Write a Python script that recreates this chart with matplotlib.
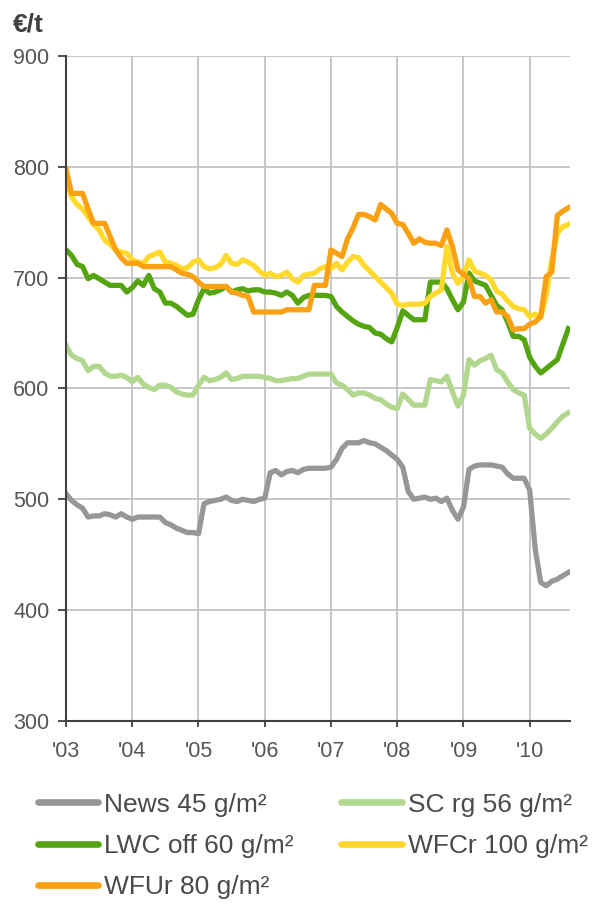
import numpy as np
import matplotlib
matplotlib.use("Agg")
import matplotlib.pyplot as plt
from matplotlib.lines import Line2D

plt.rcParams['font.family'] = ['Liberation Sans', 'DejaVu Sans']

# monthly prices, Jan 2003 .. Aug 2010 (EUR/t)
news = [505, 499, 495, 492, 484, 485, 485, 487, 486, 484, 487, 484,
        482, 484, 484, 484, 484, 484, 479, 477, 474, 472, 470, 470,
        469, 496, 498, 499, 500, 502, 499, 498, 500, 499, 498, 500,
        501, 524, 526, 522, 525, 526, 524, 527, 528, 528, 528, 528,
        529, 536, 546, 551, 551, 551, 553, 551, 550, 547, 544, 540,
        536, 529, 507, 500, 501, 502, 500, 501, 498, 501, 490, 482,
        493, 527, 530, 531, 531, 531, 530, 529, 523, 519, 519, 519,
        508, 455, 425, 422, 426, 428, 431, 434]
sc_rg = [639, 630, 627, 625, 616, 620, 620, 614, 611, 611, 612, 610,
         606, 610, 604, 601, 599, 603, 603, 601, 597, 595, 594, 594,
         603, 610, 607, 608, 610, 614, 608, 609, 611, 611, 611, 611,
         610, 609, 607, 607, 608, 609, 609, 611, 613, 613, 613, 613,
         613, 605, 603, 599, 594, 596, 596, 594, 591, 590, 586, 583,
         582, 595, 590, 585, 585, 585, 608, 607, 606, 611, 597, 584,
         594, 626, 621, 625, 627, 630, 617, 614, 606, 599, 596, 594,
         564, 559, 555, 559, 564, 570, 575, 578]
lwc = [725, 720, 712, 710, 699, 702, 699, 696, 693, 693, 693, 687,
       691, 697, 693, 702, 690, 687, 677, 677, 674, 670, 666, 667,
       680, 690, 686, 687, 689, 692, 687, 689, 690, 688, 689, 689,
       687, 687, 686, 684, 687, 684, 677, 682, 684, 684, 684, 684,
       683, 674, 669, 665, 661, 658, 656, 655, 650, 649, 645, 642,
       655, 670, 666, 662, 662, 662, 696, 696, 696, 690, 680, 671,
       678, 704, 697, 695, 693, 684, 675, 671, 660, 647, 647, 644,
       628, 620, 614, 618, 622, 626, 640, 654]
wfcr = [788, 773, 766, 762, 755, 748, 743, 734, 730, 725, 723, 722,
        716, 714, 713, 719, 721, 723, 714, 713, 711, 708, 709, 714,
        716, 710, 708, 709, 712, 720, 713, 712, 716, 714, 711, 706,
        702, 704, 701, 702, 705, 699, 696, 702, 703, 704, 708, 710,
        708, 713, 707, 714, 719, 718, 711, 706, 701, 696, 691, 686,
        676, 675, 676, 676, 676, 677, 683, 686, 689, 728, 704, 695,
        701, 716, 706, 704, 702, 698, 688, 685, 679, 674, 672, 671,
        665, 667, 664, 685, 716, 740, 746, 748]
wfur = [798, 776, 776, 776, 762, 749, 749, 749, 737, 725, 718, 713,
        713, 713, 710, 710, 710, 710, 710, 710, 707, 704, 703, 701,
        696, 692, 692, 692, 692, 692, 687, 686, 684, 683, 669, 669,
        669, 669, 669, 669, 671, 671, 671, 671, 671, 693, 693, 693,
        725, 722, 719, 735, 745, 757, 757, 755, 752, 766, 762, 758,
        749, 748, 740, 731, 735, 732, 731, 731, 729, 743, 728, 707,
        703, 699, 683, 683, 677, 680, 669, 669, 665, 653, 654, 654,
        658, 660, 665, 701, 705, 756, 760, 763]

labels = ["News 45 g/m²", "SC rg 56 g/m²", "LWC off 60 g/m²",
          "WFCr 100 g/m²", "WFUr 80 g/m²"]
colors = ["#979797", "#b2d88f", "#55a513", "#ffd92c", "#f9a013"]
year_labels = ["'03", "'04", "'05", "'06", "'07", "'08", "'09", "'10"]

months = np.arange(len(news))

fig = plt.figure(figsize=(5.99, 9.07), dpi=100)
ax = fig.add_axes([0.1102, 0.2051, 0.8414, 0.7332])

for s, c, l in zip([news, sc_rg, lwc, wfcr, wfur], colors, labels):
    ax.plot(months, s, color=c, lw=3.8, label=l, solid_joinstyle='round')

ax.set_ylim(300, 900)
ax.set_xlim(0, 91.3)
ax.set_yticks(range(300, 901, 100))
ax.set_xticks(np.arange(len(year_labels)) * 12)
ax.set_xticklabels(year_labels)
ax.grid(True, color='#c4c4c4', lw=1.3)
ax.set_axisbelow(True)
for sp in ['top', 'right']:
    ax.spines[sp].set_visible(False)
for sp in ['left', 'bottom']:
    ax.spines[sp].set_color('#404040')
    ax.spines[sp].set_linewidth(1.5)
ax.tick_params(axis='both', colors='#404040', labelcolor='#555555',
               labelsize=15.5, width=1.3)
ax.tick_params(axis='x', length=4.5, pad=10)
ax.tick_params(axis='y', length=6, pad=6)

fig.text(13 / 599, 1 - 24 / 907, "€/t", fontsize=19, fontweight='bold',
         color='#404040', va='center', ha='left')

# legend is filled column-wise, so reorder to get rows like the original
order = [0, 2, 4, 1, 3]
handles = [Line2D([], [], color=colors[i], lw=4.8, solid_capstyle='round') for i in order]
fig.legend(handles, [labels[i] for i in order], ncol=2, frameon=False,
           loc='center left', bbox_to_anchor=(0.063, 1 - 846 / 907),
           fontsize=19, labelcolor='#4a4a4a', handlelength=2.3,
           handletextpad=0.22, columnspacing=1.8, labelspacing=0.66,
           borderaxespad=0, borderpad=0)

fig.savefig("out.png", dpi=100)
